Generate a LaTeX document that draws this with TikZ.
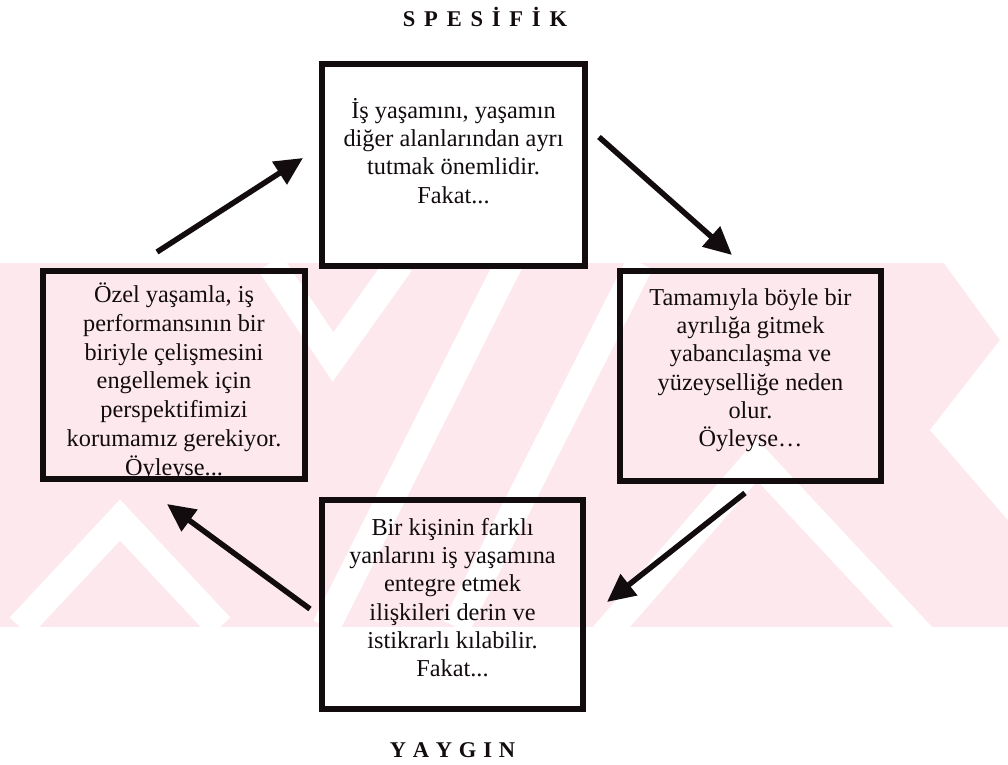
\documentclass[tikz,border=0pt]{standalone}
\usepackage{fontspec}
\setmainfont{Liberation Serif}
\usetikzlibrary{arrows.meta}
\definecolor{wm}{RGB}{253,233,237}
\definecolor{ink}{RGB}{18,12,14}
\tikzset{
  box/.style={draw=ink, line width=6bp, outer sep=0pt, inner sep=0pt, fill=none},
  body/.style={font=\fontsize{24.3bp}{28.3bp}\selectfont, align=center,
    inner sep=0pt, anchor=north, text=ink},
  heading/.style={font=\fontsize{22.5bp}{26bp}\selectfont\bfseries,
    inner sep=0pt, anchor=base, text=ink},
  flow/.style={draw=ink, line width=5.5bp, -{Triangle[length=28bp,width=26bp]}},
  gapline/.style={white, line width=28bp},
}
\newcommand\firstline{\rule{0pt}{23bp}}
\newcommand\wideS{\kern8.8bp}
\newcommand\wideY{\kern6.8bp}
\begin{document}
\begin{tikzpicture}[x=1bp,y=-1bp]
\useasboundingbox (0,0) rectangle (1008,765);
\fill[white] (0,0) rectangle (1008,765);

% pale background band with diagonal gaps
\begin{scope}
  \clip (0,263) rectangle (1008,627);
  \fill[wm] (0,263) rectangle (1008,627);
  \draw[gapline] (270,263) -- (333,357) -- (400,263);
  \draw[gapline] (509,263) -- (326,627);
  \draw[gapline] (640,263) -- (456,627);
  \draw[gapline] (600,640) -- (757,460) -- (925,640);
  \draw[gapline] (20,627) -- (120,520) -- (220,627);
  \fill[white] (944,263) -- (1008,263) -- (1008,520) -- (930,430) -- (1000,340) -- cycle;
\end{scope}

% headings
\node[heading] (spec) at (485,26.7)
  {S\wideS P\wideS E\wideS S\wideS İ\wideS F\wideS İ\wideS K};
\node[heading] (yayg) at (452.5,757.7)
  {Y\wideY A\wideY Y\wideY G\wideY I\wideY N};

% box texts (set before the frames, so the frames lie over any overhang)
\node[body] (ttxt) at (453.5,95)
  {\firstline İş yaşamını, yaşamın\\diğer alanlarından ayrı\\tutmak önemlidir.\\Fakat...};
\node[body] (rtxt) at (750.5,282)
  {\firstline Tamamıyla böyle bir\\ayrılığa gitmek\\yabancılaşma ve\\yüzeyselliğe neden\\olur.\\Öyleyse…};
\node[body] (btxt) at (452.5,512)
  {\firstline Bir kişinin farklı\\yanlarını iş yaşamına\\entegre etmek\\ilişkileri derin ve\\istikrarlı kılabilir.\\Fakat...};
\node[body, font=\fontsize{24.3bp}{28.9bp}\selectfont] (ltxt) at (174,279)
  {\firstline Özel yaşamla, iş\\performansının bir\\biriyle çelişmesini\\engellemek için\\perspektifimizi\\korumamız gerekiyor.\\Öyleyse...};

% frames
\node[box, minimum width=263bp, minimum height=202bp] (tbox) at (453.5,165) {};
\node[box, minimum width=261bp, minimum height=210bp] (rbox) at (750.5,376) {};
\node[box, minimum width=261bp, minimum height=209bp] (bbox) at (452.5,604.5) {};
\node[box, minimum width=262bp, minimum height=208bp] (lbox) at (174,375) {};

% cycle arrows
\draw[flow] ([shift={(-17,-19)}]lbox.north) -- ([shift={(-19,-7)}]tbox.west);
\draw[flow] ([shift={(14,-28)}]tbox.east) -- ([shift={(-18.5,-16)}]rbox.north);
\draw[flow] ([shift={(-5.5,12)}]rbox.south) -- ([shift={(24,-2.5)}]bbox.east);
\draw[flow] ([shift={(-12,4.5)}]bbox.west) -- ([shift={(-7,25)}]lbox.south);
\end{tikzpicture}
\end{document}
